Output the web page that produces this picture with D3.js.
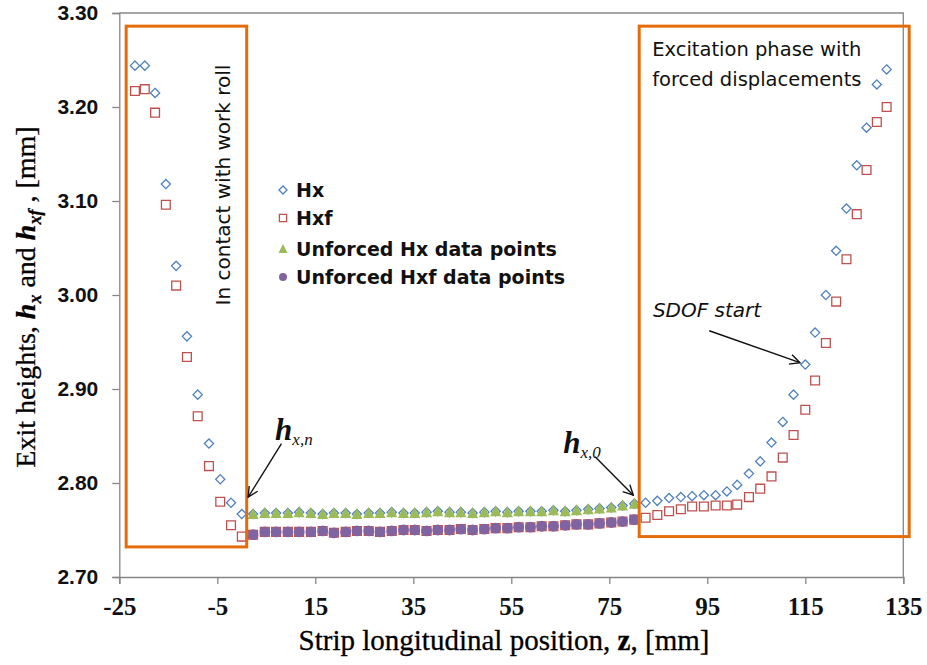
<!DOCTYPE html>
<html>
<head>
<meta charset="utf-8">
<script src="https://cdn.jsdelivr.net/npm/d3@7"></script>
<style>
  html, body { margin: 0; padding: 0; background: #ffffff; }
  svg { display: block; }
</style>
</head>
<body>
<svg id="chart" width="927" height="665"></svg>
<script>
// ---- Data: strip longitudinal position z [mm] and exit heights [mm] ----
// Region in contact with the work roll
const zContact   = [-21.8, -19.8, -17.7, -15.5, -13.4, -11.2, -9.0, -6.7, -4.4, -2.2, 0.0];
const hxContact  = [3.244, 3.244, 3.215, 3.118, 3.031, 2.956, 2.894, 2.842, 2.804, 2.779, 2.767];
const hxfContact = [3.217, 3.219, 3.194, 3.096, 3.010, 2.934, 2.871, 2.818, 2.780, 2.755, 2.743];

// Unforced region (free strip between contact and excitation)
const zUnforced = [2.3, 4.7, 7.0, 9.4, 11.7, 14.1, 16.5, 18.8, 21.2, 23.5, 25.9, 28.2, 30.6, 33.0,
  35.3, 37.7, 40.0, 42.4, 44.7, 47.1, 49.5, 51.8, 54.2, 56.5, 58.9, 61.2, 63.6, 66.0, 68.3, 70.7,
  73.0, 75.4, 77.7, 80.1];
const unforcedHx = [2.767, 2.768, 2.768, 2.768, 2.769, 2.768, 2.767, 2.768, 2.768, 2.767, 2.768,
  2.768, 2.769, 2.768, 2.768, 2.769, 2.770, 2.769, 2.769, 2.768, 2.769, 2.770, 2.769, 2.770, 2.770,
  2.770, 2.771, 2.770, 2.771, 2.772, 2.773, 2.774, 2.776, 2.778];
const unforcedHxf = [2.745, 2.748, 2.748, 2.748, 2.748, 2.748, 2.749, 2.747, 2.748, 2.749, 2.749,
  2.748, 2.749, 2.750, 2.750, 2.749, 2.750, 2.750, 2.751, 2.750, 2.751, 2.752, 2.752, 2.753, 2.753,
  2.754, 2.754, 2.755, 2.756, 2.756, 2.757, 2.758, 2.759, 2.761];

// Excitation phase with forced displacements
const zForced   = [82.4, 84.8, 87.2, 89.6, 91.9, 94.3, 96.7, 99.0, 101.1, 103.5, 105.8, 108.1,
  110.4, 112.6, 115.0, 117.0, 119.2, 121.3, 123.4, 125.5, 127.5, 129.6, 131.6];
const hxForced  = [2.779, 2.781, 2.784, 2.785, 2.786, 2.787, 2.787, 2.791, 2.798, 2.810, 2.823,
  2.843, 2.865, 2.894, 2.926, 2.960, 3.000, 3.047, 3.092, 3.138, 3.178, 3.224, 3.240];
const hxfForced = [2.763, 2.766, 2.770, 2.772, 2.775, 2.775, 2.776, 2.776, 2.777, 2.785, 2.794,
  2.807, 2.827, 2.851, 2.878, 2.909, 2.949, 2.993, 3.038, 3.086, 3.133, 3.184, 3.200];

// Axis ticks
const xTicks = [-25, -5, 15, 35, 55, 75, 95, 115, 135];
const yTicks = [2.70, 2.80, 2.90, 3.00, 3.10, 3.20, 3.30];

const legendLabels = ["Hx", "Hxf", "Unforced Hx data points", "Unforced Hxf data points"];

// ---- Full series ----
const zip = (zs, hs) => zs.map((z, i) => ({ z, h: hs[i] }));
const hxSeries  = [...zip(zContact, hxContact),  ...zip(zUnforced, unforcedHx),  ...zip(zForced, hxForced)];
const hxfSeries = [...zip(zContact, hxfContact), ...zip(zUnforced, unforcedHxf), ...zip(zForced, hxfForced)];
const unfHxSeries  = zip(zUnforced, unforcedHx);
const unfHxfSeries = zip(zUnforced, unforcedHxf);

// ---- Layout ----
const svg = d3.select("#chart");
const plot = { left: 119.3, right: 903.3, top: 13, bottom: 577 };

const x = d3.scaleLinear().domain([-25, 135]).range([plot.left, plot.right]);
const y = d3.scaleLinear().domain([2.70, 3.30]).range([plot.bottom, plot.top]);

const COL = {
  axis: "#868686",
  hx: "#4F81BD",
  hxf: "#C0504D",
  unfHx: "#9BBB59",
  unfHxf: "#8064A2",
  box: "#E46C0A"
};

// Plot frame (top and right edges)
svg.append("path")
  .attr("d", `M${plot.left},${plot.top}H${plot.right}V${plot.bottom}`)
  .attr("fill", "none").attr("stroke", COL.axis).attr("stroke-width", 1.3);

// Axes
const gx = svg.append("g").attr("transform", `translate(0,${plot.bottom})`)
  .call(d3.axisBottom(x).tickValues(xTicks).tickFormat(d => String(d)).tickSize(7).tickPadding(13));
const gy = svg.append("g").attr("transform", `translate(${plot.left},0)`)
  .call(d3.axisLeft(y).tickValues(yTicks).tickFormat(d3.format(".2f")).tickSize(7).tickPadding(14));

[gx, gy].forEach(g => {
  g.select(".domain").attr("stroke", COL.axis).attr("stroke-width", 1.3);
  g.selectAll(".tick line").attr("stroke", COL.axis).attr("stroke-width", 1.3);
});
gy.selectAll(".tick text")
  .attr("font-family", "'Liberation Sans', Arial, sans-serif")
  .attr("font-weight", "bold").attr("font-size", 21).attr("fill", "#111");
gx.selectAll(".tick text")
  .attr("font-family", "'Liberation Serif', 'DejaVu Serif', serif")
  .attr("font-weight", "bold").attr("font-size", 25).attr("fill", "#111");

// Axis titles
const serif = "'Liberation Serif', 'DejaVu Serif', serif";
const yTitle = svg.append("text")
  .attr("transform", "translate(35,297) rotate(-90)")
  .attr("text-anchor", "middle")
  .attr("font-family", serif)
  .attr("font-size", 28).attr("fill", "#000")
  .attr("stroke", "#000").attr("stroke-width", 0.3);
yTitle.append("tspan").text("Exit heights, ");
yTitle.append("tspan").attr("font-style", "italic").attr("font-weight", "bold").text("h");
yTitle.append("tspan").attr("font-style", "italic").attr("font-weight", "bold")
  .attr("font-size", 18).attr("dy", 6).text("x");
yTitle.append("tspan").attr("dy", -6).text(" and ");
yTitle.append("tspan").attr("font-style", "italic").attr("font-weight", "bold").text("h");
yTitle.append("tspan").attr("font-style", "italic").attr("font-weight", "bold")
  .attr("font-size", 18).attr("dy", 6).text("xf");
yTitle.append("tspan").attr("dy", -6).text(" , [mm]");

const xTitle = svg.append("text")
  .attr("x", 504).attr("y", 650)
  .attr("text-anchor", "middle")
  .attr("font-family", serif)
  .attr("font-size", 29).attr("fill", "#000")
  .attr("stroke", "#000").attr("stroke-width", 0.3);
xTitle.append("tspan").text("Strip longitudinal position, ");
xTitle.append("tspan").attr("font-weight", "bold").text("z");
xTitle.append("tspan").text(", [mm]");

// ---- Marker shapes ----
const diamondPath = s => `M0,${-s}L${s},0L0,${s}L${-s},0Z`;
const squarePath  = s => `M${-s},${-s}H${s}V${s}H${-s}Z`;
const trianglePath = (w, h) => `M0,${-h / 2 - 1}L${w / 2},${h / 2}H${-w / 2}Z`;

// Hx (hollow diamonds)
svg.append("g").selectAll("path").data(hxSeries).join("path")
  .attr("transform", d => `translate(${x(d.z)},${y(d.h)})`)
  .attr("d", diamondPath(4.6))
  .attr("fill", "#fff").attr("stroke", COL.hx).attr("stroke-width", 1.3);

// Hxf (hollow squares)
svg.append("g").selectAll("path").data(hxfSeries).join("path")
  .attr("transform", d => `translate(${x(d.z)},${y(d.h)})`)
  .attr("d", squarePath(4.4))
  .attr("fill", "#fff").attr("stroke", COL.hxf).attr("stroke-width", 1.3);

// Unforced Hx (filled triangles)
svg.append("g").selectAll("path").data(unfHxSeries).join("path")
  .attr("transform", d => `translate(${x(d.z)},${y(d.h)})`)
  .attr("d", trianglePath(11, 10))
  .attr("fill", COL.unfHx);

// Unforced Hxf (filled circles)
svg.append("g").selectAll("circle").data(unfHxfSeries).join("circle")
  .attr("cx", d => x(d.z)).attr("cy", d => y(d.h)).attr("r", 5.4)
  .attr("fill", COL.unfHxf);

// ---- Annotation boxes ----
const contactBox = { z0: -23.6, z1: 1.0, h0: 2.732, h1: 3.286 };
const forcedBox  = { z0: 81.1, z1: 136.2, h0: 2.743, h1: 3.286 };
[contactBox, forcedBox].forEach(b => {
  svg.append("rect")
    .attr("x", x(b.z0)).attr("y", y(b.h1))
    .attr("width", x(b.z1) - x(b.z0)).attr("height", y(b.h0) - y(b.h1))
    .attr("fill", "none").attr("stroke", COL.box).attr("stroke-width", 3);
});

const sans = "'DejaVu Sans', 'Open Sans', sans-serif";
svg.append("text")
  .attr("transform", `translate(${x(contactBox.z1) - 17},185) rotate(-90)`)
  .attr("text-anchor", "middle")
  .attr("font-family", sans).attr("font-size", 20).attr("fill", "#111")
  .text("In contact with work roll");

svg.append("text")
  .attr("x", x(forcedBox.z0) + 13).attr("y", 56)
  .attr("font-family", sans).attr("font-size", 19.5).attr("fill", "#111")
  .text("Excitation phase with");
svg.append("text")
  .attr("x", x(forcedBox.z0) + 13).attr("y", 86)
  .attr("font-family", sans).attr("font-size", 19.5).attr("fill", "#111")
  .text("forced displacements");

// ---- Arrows and labels ----
svg.append("defs").append("marker")
  .attr("id", "arrowhead")
  .attr("viewBox", "0 0 12 12").attr("refX", 11).attr("refY", 6)
  .attr("markerWidth", 12).attr("markerHeight", 12).attr("markerUnits", "userSpaceOnUse")
  .attr("orient", "auto")
  .append("path").attr("d", "M1,1L11,6L1,11")
  .attr("fill", "none").attr("stroke", "#111").attr("stroke-width", 1.4);

const arrows = [
  { from: [95.4, 2.962], to: [113.9, 2.928] },
  { from: [8.1, 2.842], to: [1.3, 2.785] },
  { from: [72.1, 2.828], to: [79.9, 2.787] }
];
svg.append("g").selectAll("line").data(arrows).join("line")
  .attr("x1", d => x(d.from[0])).attr("y1", d => y(d.from[1]))
  .attr("x2", d => x(d.to[0])).attr("y2", d => y(d.to[1]))
  .attr("stroke", "#111").attr("stroke-width", 1.4)
  .attr("marker-end", "url(#arrowhead)");

svg.append("text")
  .attr("x", x(83.9)).attr("y", y(2.977))
  .attr("font-family", sans).attr("font-style", "italic").attr("font-size", 20).attr("fill", "#111")
  .text("SDOF start");

function hLabel(z, h, sub) {
  const t = svg.append("text")
    .attr("x", x(z)).attr("y", y(h))
    .attr("font-family", serif).attr("font-style", "italic").attr("fill", "#111");
  t.append("tspan").attr("font-weight", "bold").attr("font-size", 31).text("h");
  t.append("tspan").attr("font-size", 17).attr("dy", 5).text(sub);
}
hLabel(6.8, 2.846, "x,n");
hLabel(65.6, 2.832, "x,0");

// ---- Legend ----
const legend = svg.append("g").attr("transform", "translate(283,0)");
const legendRows = [190, 218, 249, 277];
legend.append("path").attr("transform", `translate(0,${legendRows[0]})`)
  .attr("d", diamondPath(4)).attr("fill", "#fff").attr("stroke", COL.hx).attr("stroke-width", 1.3);
legend.append("path").attr("transform", `translate(0,${legendRows[1]})`)
  .attr("d", squarePath(3.6)).attr("fill", "#fff").attr("stroke", COL.hxf).attr("stroke-width", 1.3);
legend.append("path").attr("transform", `translate(0,${legendRows[2]})`)
  .attr("d", trianglePath(9, 8)).attr("fill", COL.unfHx);
legend.append("circle").attr("cy", legendRows[3]).attr("r", 4).attr("fill", COL.unfHxf);
legend.selectAll("text").data(legendLabels).join("text")
  .attr("x", 13).attr("y", (d, i) => legendRows[i] + 7)
  .attr("font-family", sans).attr("font-weight", "bold").attr("font-size", 19).attr("fill", "#111")
  .text(d => d);
</script>
</body>
</html>
